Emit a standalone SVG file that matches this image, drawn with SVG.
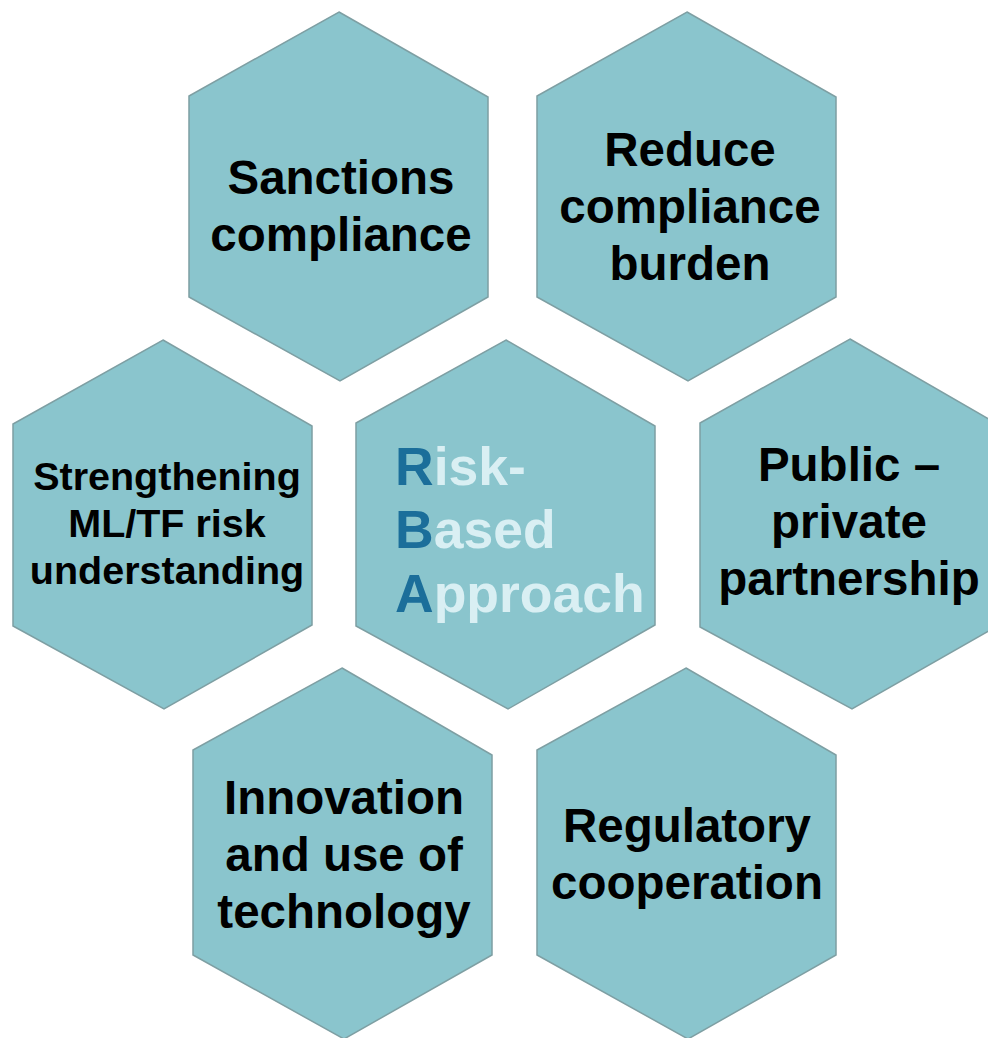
<svg xmlns="http://www.w3.org/2000/svg" width="988" height="1038" viewBox="0 0 988 1038">
<style>
.hex{fill:#8AC5CD;stroke:#7E9FA3;stroke-width:1.5}
.t{font-family:"Liberation Sans",Arial,sans-serif;font-weight:bold;fill:#000;text-anchor:middle}
.big{font-size:47.5px}
.small{font-size:39.5px}
.rba{font-family:"Liberation Sans",Arial,sans-serif;font-weight:bold;font-size:53.5px;fill:#D9EFF3}
.dk{fill:#1B6E9A}
</style>
<rect width="988" height="1038" fill="#fff"/>
<g id="connectors"></g>
<g id="sanctions">
<polygon class="hex" points="339,12 488,97 488,297 340,381 189,297 189,96"/>
<text class="t big" x="341" y="194">Sanctions</text>
<text class="t big" x="341" y="251">compliance</text>
</g>
<g id="reduce">
<polygon class="hex" points="687,12 836,97 836,297 688,381 537,297 537,96"/>
<text class="t big" x="690" y="166">Reduce</text>
<text class="t big" x="690" y="223">compliance</text>
<text class="t big" x="690" y="280">burden</text>
</g>
<g id="strengthening">
<polygon class="hex" points="163,340 312,426 312,625 164,709 13,626 13,424"/>
<text class="t small" x="167" y="490">Strengthening</text>
<text class="t small" x="167" y="537">ML/TF risk</text>
<text class="t small" x="167" y="584">understanding</text>
</g>
<g id="rba">
<polygon class="hex" points="506,340 655,426 655,625 508,709 356,626 356,423"/>
<text class="rba" x="395" y="485"><tspan class="dk">R</tspan>isk-</text>
<text class="rba" x="395" y="548"><tspan class="dk">B</tspan>ased</text>
<text class="rba" x="395" y="612"><tspan class="dk">A</tspan>pproach</text>
</g>
<g id="public">
<polygon class="hex" points="850,339 999,425 999,625 852,709 700,627 700,423"/>
<text class="t big" x="849" y="481">Public –</text>
<text class="t big" x="849" y="538">private</text>
<text class="t big" x="849" y="595">partnership</text>
</g>
<g id="innovation">
<polygon class="hex" points="342,668 492,755 492,955 344,1039 193,955 193,750"/>
<text class="t big" x="344" y="814">Innovation</text>
<text class="t big" x="344" y="871">and use of</text>
<text class="t big" x="344" y="928">technology</text>
</g>
<g id="regulatory">
<polygon class="hex" points="686,668 836,755 836,955 688,1039 537,955 537,750"/>
<text class="t big" x="687" y="842">Regulatory</text>
<text class="t big" x="687" y="899">cooperation</text>
</g>
</svg>
